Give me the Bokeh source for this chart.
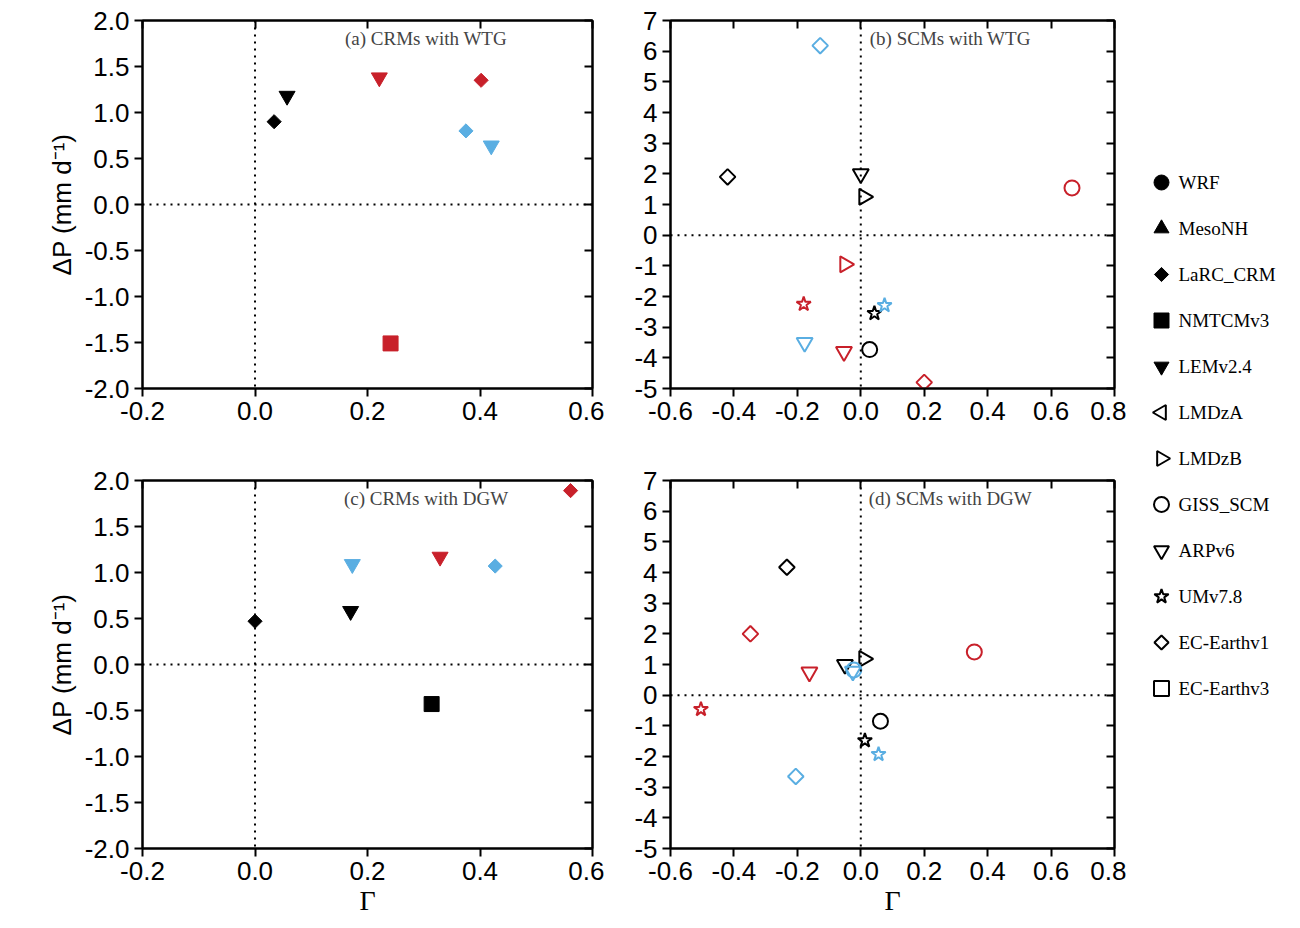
from bokeh.plotting import figure
from bokeh.layouts import row, column
from bokeh.models import Span, Label, LinearAxis, Range1d, FixedTicker, CustomJSTickFormatter
from bokeh.core.properties import value
from bokeh.embed import file_html
from bokeh.resources import INLINE

RED = "#c8202a"; BLUE = "#5aaee2"; BLK = "black"

# (a) CRMs with WTG: marker, color, x(Gamma), y(dP)
a_mk = ["diamond", "inverted_triangle", "inverted_triangle", "diamond", "diamond", "inverted_triangle", "square"]
a_col = [BLK, BLK, RED, RED, BLUE, BLUE, RED]
a_x = [0.034, 0.057, 0.221, 0.402, 0.375, 0.42, 0.241]
a_y = [0.90, 1.18, 1.38, 1.35, 0.80, 0.64, -1.51]

# (c) CRMs with DGW
c_mk = ["diamond", "inverted_triangle", "inverted_triangle", "diamond", "inverted_triangle", "diamond", "square"]
c_col = [RED, BLUE, RED, BLUE, BLK, BLK, BLK]
c_x = [0.561, 0.173, 0.329, 0.427, 0.17, 0.0, 0.314]
c_y = [1.89, 1.09, 1.17, 1.07, 0.58, 0.47, -0.43]

# (b) SCMs with WTG
b_mk = ["diamond", "diamond", "inverted_triangle", "triangle", "triangle", "star", "star", "star",
        "inverted_triangle", "inverted_triangle", "circle", "diamond", "circle"]
b_col = [BLUE, BLK, BLK, BLK, RED, RED, BLK, BLUE, BLUE, RED, BLK, RED, RED]
b_x = [-0.128, -0.42, 0.0, 0.01, -0.05, -0.18, 0.043, 0.075, -0.177, -0.053, 0.028, 0.2, 0.666]
b_y = [6.18, 1.9, 2.0, 1.25, -0.95, -2.25, -2.55, -2.29, -3.5, -3.8, -3.73, -4.8, 1.54]

# (d) SCMs with DGW
d_mk = ["diamond", "diamond", "inverted_triangle", "inverted_triangle", "triangle", "circle", "inverted_triangle",
        "star", "circle", "star", "star", "diamond", "circle"]
d_col = [BLK, RED, RED, BLK, BLK, BLUE, BLUE, RED, BLK, BLK, BLUE, BLUE, RED]
d_x = [-0.233, -0.348, -0.162, -0.05, 0.01, -0.022, -0.025, -0.504, 0.062, 0.013, 0.056, -0.205, 0.358]
d_y = [4.17, 2.0, 0.75, 1.0, 1.18, 0.82, 0.78, -0.46, -0.85, -1.48, -1.93, -2.65, 1.41]

leg_names = ["WRF", "MesoNH", "LaRC_CRM", "NMTCMv3", "LEMv2.4", "LMDzA", "LMDzB", "GISS_SCM",
             "ARPv6", "UMv7.8", "EC-Earthv1", "EC-Earthv3"]
leg_mk = ["circle", "triangle", "diamond", "square", "inverted_triangle", "triangle", "triangle",
          "circle", "inverted_triangle", "star", "diamond", "square"]
leg_fill = [True, True, True, True, True, False, False, False, False, False, False, False]
leg_angle = [0, 0, 0, 0, 0, 1.5708, -1.5708, 0, 0, 0, 0, 0]

SANS = "Liberation Sans"; SERIF = "Liberation Serif"
PI4 = 0.785398


def make(title, xr, yr, xt, yt, fmt, w, h, bl, bt, bb, ylabel, xlabel):
    p = figure(width=w, height=h, x_range=Range1d(*xr), y_range=Range1d(*yr),
               output_backend="svg", toolbar_location=None,
               min_border_left=bl, min_border_top=bt, min_border_bottom=bb, min_border_right=12,
               x_axis_label=xlabel, y_axis_label=ylabel)
    p.grid.visible = False
    p.outline_line_color = "black"; p.outline_line_width = 2
    p.background_fill_color = "white"; p.border_fill_color = "white"
    for ax in p.xaxis + p.yaxis:
        ax.major_label_text_font = SANS
        ax.major_label_text_font_size = "26px"
        ax.major_label_text_color = "black"
        ax.axis_line_width = 2
        ax.major_tick_line_width = 2
        ax.major_tick_out = 8; ax.major_tick_in = 0
        ax.minor_tick_line_color = None
    p.xaxis.ticker = FixedTicker(ticks=xt)
    p.yaxis.ticker = FixedTicker(ticks=yt)
    p.xaxis.formatter = CustomJSTickFormatter(code="return tick.toFixed(1).replace('-0.0','0.0');")
    p.yaxis.formatter = CustomJSTickFormatter(code=fmt)
    p.yaxis.axis_label_text_font = SANS
    p.yaxis.axis_label_text_font_size = "26px"
    p.yaxis.axis_label_text_font_style = "normal"
    p.yaxis.axis_label_text_color = "black"
    p.xaxis.axis_label_text_font = SERIF
    p.xaxis.axis_label_text_font_size = "28px"
    p.xaxis.axis_label_text_font_style = "normal"
    p.xaxis.axis_label_text_color = "black"
    p.xaxis.axis_label_standoff = 2
    top = LinearAxis(ticker=FixedTicker(ticks=xt), major_label_text_font_size="0px",
                     major_tick_in=8, major_tick_out=0, major_tick_line_width=2, axis_line_width=2,
                     minor_tick_line_color=None)
    right = LinearAxis(ticker=FixedTicker(ticks=yt), major_label_text_font_size="0px",
                       major_tick_in=8, major_tick_out=0, major_tick_line_width=2, axis_line_width=2,
                       minor_tick_line_color=None)
    p.add_layout(top, "above"); p.add_layout(right, "right")
    p.add_layout(Span(location=0, dimension="width", line_dash="2 5", line_width=2, line_color="black"))
    p.add_layout(Span(location=0, dimension="height", line_dash="2 5", line_width=2, line_color="black"))
    p.add_layout(Label(x=(xr[0] + xr[1]) / 2 + (xr[1] - xr[0]) * 0.13, y=yr[1] - (yr[1] - yr[0]) * 0.05,
                       text=title, text_font=SERIF, text_font_size="19px", text_align="center",
                       text_baseline="middle"))
    return p


def pts(p, mk, col, xs, ys, filled):
    for m, c, x, y in zip(mk, col, xs, ys):
        ang = -1.5708 if (m == "triangle" and not filled) else 0
        size = 16 if m in ("triangle", "inverted_triangle") else 15
        if m == "diamond":
            m = "square"; ang = PI4; size = 10 if filled else 11
        if filled:
            p.scatter([x], [y], marker=m, size=size, fill_color=c, line_color=c, line_width=1, angle=ang)
        else:
            p.scatter([x], [y], marker=m, size=size, fill_color=None, line_color=c, line_width=2, angle=ang)


fmt1 = "return tick.toFixed(1).replace('-0.0','0.0');"
fmt0 = "return tick.toFixed(0);"
crm_xt = [-0.2, 0.0, 0.2, 0.4, 0.6]
crm_yt = [-2, -1.5, -1, -0.5, 0, 0.5, 1, 1.5, 2]
scm_xt = [-0.6, -0.4, -0.2, 0.0, 0.2, 0.4, 0.6, 0.8]
scm_yt = list(range(-5, 8))

pa = make("(a) CRMs with WTG", (-0.2, 0.6), (-2, 2), crm_xt, crm_yt, fmt1, 604, 460, 142, 20, 72, "ΔP (mm d⁻¹)", None)
pb = make("(b) SCMs with WTG", (-0.6, 0.8), (-5, 7), scm_xt, scm_yt, fmt0, 522, 460, 66, 20, 72, None, None)
pc = make("(c) CRMs with DGW", (-0.2, 0.6), (-2, 2), crm_xt, crm_yt, fmt1, 604, 460, 142, 20, 72, "ΔP (mm d⁻¹)", "Γ")
pd_ = make("(d) SCMs with DGW", (-0.6, 0.8), (-5, 7), scm_xt, scm_yt, fmt0, 522, 460, 66, 20, 72, None, "Γ")

pts(pa, a_mk, a_col, a_x, a_y, True)
pts(pc, c_mk, c_col, c_x, c_y, True)
pts(pb, b_mk, b_col, b_x, b_y, False)
pts(pd_, d_mk, d_col, d_x, d_y, False)

# legend panel: one row per model (row index on a flipped y scale)
lg = figure(width=170, height=920, output_backend="svg", toolbar_location=None,
            x_range=Range1d(0, 170), y_range=Range1d(738 / 46, -182 / 46), min_border=0)
lg.axis.visible = False; lg.grid.visible = False; lg.outline_line_color = None
for i, (n, m, f, a) in enumerate(zip(leg_names, leg_mk, leg_fill, leg_angle)):
    size = 15
    if m == "diamond":
        m = "square"; a = PI4; size = 10
    lg.scatter([35], [i], marker=m, size=size, angle=a,
               fill_color="black" if f else None, line_color="black", line_width=1 if f else 2)
lg.text(x=[52] * len(leg_names), y=list(range(len(leg_names))), text=leg_names,
        text_font=value(SERIF), text_font_size="19px", text_baseline="middle", text_color="black")

layout = row(column(row(pa, pb), row(pc, pd_)), lg)
open("out.html", "w").write(file_html(layout, INLINE))
